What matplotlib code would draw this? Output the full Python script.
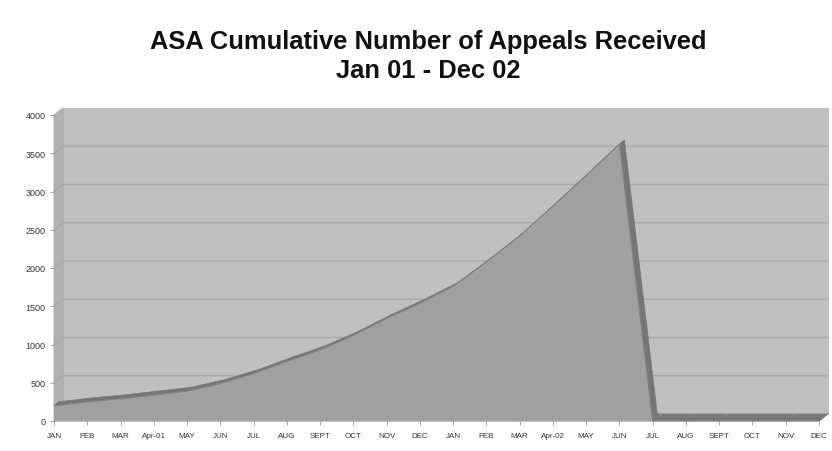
import matplotlib
matplotlib.use("Agg")
import matplotlib.pyplot as plt
import numpy as np

plt.rcParams['font.family'] = ['Liberation Sans', 'DejaVu Sans']

# Month labels across the two years
months = ["JAN", "FEB", "MAR", "Apr-01", "MAY", "JUN", "JUL", "AUG", "SEPT", "OCT", "NOV", "DEC",
          "JAN", "FEB", "MAR", "Apr-02", "MAY", "JUN", "JUL", "AUG", "SEPT", "OCT", "NOV", "DEC"]

# Cumulative appeals received
appeals = [200, 250, 290, 340, 390, 490, 620, 780, 930, 1120, 1340, 1540,
           1760, 2080, 2420, 2810, 3210, 3620, 0, 0, 0, 0, 0, 0]

y_ticks = [0, 500, 1000, 1500, 2000, 2500, 3000, 3500, 4000]

W, H = 832, 452
fig = plt.figure(figsize=(W / 100, H / 100), dpi=100)
fig.patch.set_facecolor("white")

# front plane of the plot: x index 0..23, y 0..4000
left_px, right_px, bottom_px, top_px = 54, 819, 422, 116
ax = fig.add_axes([left_px / W, (H - bottom_px) / H,
                   (right_px - left_px) / W, (bottom_px - top_px) / H])
n = len(months)
x = np.arange(n)
ax.set_xlim(0, n - 1)
ax.set_ylim(0, 4000)
ax.set_facecolor("none")
for s in ax.spines.values():
    s.set_visible(False)

# pixel -> data conversion factors for the pseudo-3D depth
px_x = (n - 1) / (right_px - left_px)
px_y = 4000 / (bottom_px - top_px)
wall_dx, wall_dy = 9 * px_x, 7 * px_y       # depth of the walls
rib_dx, rib_dy = 5 * px_x, 4 * px_y         # depth of the area ribbon

wall_col = "#c0c0c0"
side_col = "#b2b2b2"
floor_col = "#7e7e7e"
grid_col = "#a9a9a9"
front_col = "#a0a0a0"
top_col = "#767676"

# back wall
ax.add_patch(plt.Polygon([(wall_dx, wall_dy), (n - 1 + wall_dx, wall_dy),
                          (n - 1 + wall_dx, 4000 + wall_dy), (wall_dx, 4000 + wall_dy)],
                         closed=True, facecolor=wall_col, edgecolor="#b8b8b8",
                         lw=0.6, clip_on=False, zorder=1))
# side wall
ax.add_patch(plt.Polygon([(0, 0), (0, 4000), (wall_dx, 4000 + wall_dy), (wall_dx, wall_dy)],
                         closed=True, facecolor=side_col, edgecolor="#a8a8a8",
                         lw=0.6, clip_on=False, zorder=1))
# floor
ax.add_patch(plt.Polygon([(0, 0), (n - 1, 0), (n - 1 + wall_dx, wall_dy), (wall_dx, wall_dy)],
                         closed=True, facecolor=floor_col, edgecolor="#707070",
                         lw=0.6, clip_on=False, zorder=1))

# gridlines on side and back walls
for yv in y_ticks[1:-1]:
    ax.plot([0, wall_dx, n - 1 + wall_dx], [yv, yv + wall_dy, yv + wall_dy],
            color=grid_col, lw=1.0, clip_on=False, zorder=2)

# faint month separators across the floor
for xi in x[1:-1]:
    ax.plot([xi, xi + wall_dx], [0, wall_dy], color="#8c8c8c", lw=0.6,
            clip_on=False, zorder=2)

# top surface of the area ribbon
for i in range(n - 1):
    ax.add_patch(plt.Polygon([(x[i], appeals[i]), (x[i + 1], appeals[i + 1]),
                              (x[i + 1] + rib_dx, appeals[i + 1] + rib_dy),
                              (x[i] + rib_dx, appeals[i] + rib_dy)],
                             closed=True, facecolor=top_col, edgecolor=top_col,
                             lw=0.5, clip_on=False, zorder=3))

# front face of the area
ax.fill_between(x, 0, appeals, facecolor=front_col, edgecolor="none", zorder=4)
ax.plot(x, appeals, color="#808080", lw=0.8, zorder=5)

# axes ticks and labels
ax.set_yticks(y_ticks)
ax.set_yticklabels([str(v) for v in y_ticks])
ax.set_xticks(x)
ax.set_xticklabels(months)
ax.tick_params(axis="y", length=3, width=0.6, color="#909090", labelsize=6.5,
               labelcolor="#333333", pad=3)
ax.tick_params(axis="x", length=3, width=0.6, color="#909090", labelsize=5.8,
               labelcolor="#333333", pad=5)

# title
fig.text(428 / W, 1 - 42 / H, "ASA Cumulative Number of Appeals Received",
         ha="center", va="center", fontsize=18.4, fontweight="bold", color="#111111")
fig.text(428 / W, 1 - 71 / H, "Jan 01 - Dec 02",
         ha="center", va="center", fontsize=18.4, fontweight="bold", color="#111111")

fig.savefig("out.png", dpi=100, facecolor="white")
